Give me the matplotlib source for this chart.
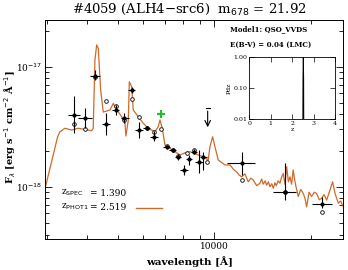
import matplotlib
matplotlib.use("Agg")
import matplotlib.pyplot as plt
from matplotlib.ticker import FixedLocator, NullFormatter, LogLocator
import numpy as np

# ── Model spectrum (wavelength [A], flux [1e-18 erg/s/cm2/A]) ────────────────
spec_wl = [2965, 3236, 3289, 3410, 3580, 3753, 4134, 4180, 4232, 4285, 4335,
           4410, 4493, 4714, 4830, 4887, 5003, 5129, 5253, 5290, 5380, 5420,
           5510, 5576, 5780, 5990, 6210, 6516, 6674, 6756, 6870, 7003, 7260,
           7527, 7800, 8100, 8384, 8900, 9226, 9560, 9680, 9870, 10036, 10280,
           10780, 11180, 11450, 11730, 11950, 12160, 12450, 12750, 13000, 13220,
           13550, 13870, 14050, 14200, 14400, 14550, 14750, 14900, 15100, 15270,
           15450, 15600, 15800, 16020, 16200, 16410, 16600, 16810, 17020,
           17220, 17420, 17620, 17800, 17980, 18280, 18600, 18940, 19180, 19410,
           19750, 20120, 20500, 20850, 21250, 21630, 22000, 22420, 22960, 23390,
           23810, 24380, 24800, 25260]
spec_flux = [1.00, 2.61, 2.87, 3.07, 2.97, 3.07, 2.93, 3.07, 11.4, 15.2, 14.2,
             6.40, 4.19, 4.36, 4.95, 4.64, 4.22, 3.83, 3.38, 2.65, 3.60, 7.50,
             6.81, 4.36, 3.83, 3.38, 3.07, 2.87, 3.16, 3.60, 3.07, 2.23, 2.09,
             1.96, 1.84, 1.92, 1.96, 1.84, 1.78, 1.67, 2.15, 2.61, 2.15, 1.67,
             1.52, 1.52, 1.40, 1.33, 1.25, 1.21, 1.28, 1.10, 1.18, 1.14,
             1.02, 1.07, 1.16, 1.05, 1.12, 1.03, 1.10, 1.00, 1.06, 0.97,
             1.08, 1.02, 1.12, 1.07, 1.20, 1.29, 1.05, 1.47, 1.10,
             1.21, 1.05, 1.38, 1.15, 1.00, 0.83, 0.95, 0.88, 0.80, 0.68,
             0.90, 0.83, 0.90, 0.88, 0.78, 0.80, 0.86, 0.775, 0.94, 1.10,
             0.88, 0.73, 0.76, 0.68]

# ── Observed photometry ──────────────────────────────────────────────────────
phot_wl = [3648, 3938, 4232, 4570, 4910, 5215, 5510, 5820, 6140, 6470, 7096,
           7403, 7705, 8030, 8325, 8630, 8947, 9226, 12160, 16610, 21630]
phot_wl_lo = [3490, 3753, 4083, 4440, 4770, 5100, 5380, 5650, 5990, 6290, 6900,
              7200, 7550, 7800, 8150, 8450, 8690, 9010, 10915, 15270, 20120]
phot_wl_hi = [3800, 4134, 4385, 4714, 5040, 5410, 5650, 5990, 6290, 6660, 7260,
              7580, 7860, 8260, 8500, 8800, 9210, 9475, 13390, 17980, 23250]
phot_flux = [3.96, 3.72, 8.41, 3.31, 4.36, 3.72, 6.40, 2.97, 3.07, 2.61, 2.13,
             2.02, 1.76, 1.38, 1.69, 1.96, 1.62, 1.76, 1.57, 0.899, 0.718]
phot_flux_lo = [2.79, 3.07, 7.74, 2.70, 3.96, 3.39, 6.00, 2.53, 2.95, 2.40, 2.05,
                1.94, 1.66, 1.25, 1.52, 1.88, 1.29, 1.38, 1.25, 0.775, 0.66]
phot_flux_hi = [5.70, 4.50, 9.39, 4.09, 4.79, 4.10, 6.81, 3.48, 3.20, 2.90, 2.22,
                2.10, 1.86, 1.52, 1.84, 2.05, 2.02, 1.96, 1.96, 1.57, 0.826]

# model photometry (open circles)
model_wl = [3648, 3938, 4232, 4570, 4910, 5215, 5510, 5820, 6140, 6470, 6790,
            7096, 7403, 7705, 8180, 8630, 9510, 12160, 16610, 21630]
model_flux = [3.33, 3.02, 8.16, 5.21, 4.70, 3.60, 5.35, 3.83, 3.07, 2.87, 3.01,
              2.20, 2.02, 1.82, 1.90, 2.02, 1.61, 1.14, 0.90, 0.619]

# extra points
green_wl, green_flux = 6790, 4.01
limit_wl, limit_flux, limit_tip = 9523, 4.50, 2.97

# ── Pdz inset ────────────────────────────────────────────────────────────────
pdz_z = [0.0, 2.49, 2.505, 2.52, 2.535, 2.55, 4.0]
pdz_p = [1e-4, 1e-4, 0.2, 1.0, 0.2, 1e-4, 1e-4]

ORANGE = "#cf6a2a"
SCALE = 1e-18
plt.rcParams["font.family"] = "DejaVu Serif"

fig = plt.figure(figsize=(3.48, 2.70), dpi=100)
ax = fig.add_axes([0.1307, 0.1148, 0.8563, 0.8111])

ax.plot(spec_wl, np.array(spec_flux) * SCALE, color=ORANGE, lw=0.9, zorder=2)

pw = np.array(phot_wl, float)
pf = np.array(phot_flux) * SCALE
xerr = [pw - np.array(phot_wl_lo), np.array(phot_wl_hi) - pw]
yerr = [pf - np.array(phot_flux_lo) * SCALE, np.array(phot_flux_hi) * SCALE - pf]
ax.errorbar(pw, pf, xerr=xerr, yerr=yerr, fmt="o", ms=2.0, color="black",
            elinewidth=0.8, capsize=0, zorder=4)
ax.plot(model_wl, np.array(model_flux) * SCALE, "o", ms=2.6, mfc="white",
        mec="black", mew=0.6, zorder=3)
ax.plot(green_wl, green_flux * SCALE, "+", color="#20c020", ms=6, mew=1.5, zorder=5)

# upper limit
ax.plot([limit_wl * 0.985, limit_wl * 1.015], [limit_flux * SCALE] * 2, color="black", lw=0.8)
ax.annotate("", xy=(limit_wl, limit_tip * SCALE), xytext=(limit_wl, limit_flux * SCALE),
            arrowprops=dict(arrowstyle="->", color="black", lw=0.8, mutation_scale=10))

ax.set_xscale("log")
ax.set_yscale("log")
ax.set_xlim(2965, 25300)
ax.set_ylim(3.67e-19, 2.45e-17)

ax.xaxis.set_major_locator(FixedLocator([10000]))
ax.xaxis.set_minor_locator(FixedLocator([3000, 4000, 5000, 6000, 7000, 8000, 9000, 20000]))
ax.xaxis.set_minor_formatter(NullFormatter())
ax.set_xticklabels(["10000"])
ax.yaxis.set_major_locator(FixedLocator([1e-18, 1e-17]))
ax.yaxis.set_minor_locator(LogLocator(base=10, subs=np.arange(2, 10)))
ax.yaxis.set_minor_formatter(NullFormatter())
ax.set_yticklabels([r"10$^{-18}$", r"10$^{-17}$"])
ax.tick_params(which="both", direction="in", top=True, right=True, labelsize=6.5,
               width=0.6, pad=2.5)
ax.tick_params(which="major", length=5)
ax.tick_params(which="minor", length=3)
for s in ax.spines.values():
    s.set_linewidth(0.7)

fig.text(0.545, 0.965, r"#4059 (ALH4$-$src6)  m$_{678}$ = 21.92", ha="center",
         va="center", fontsize=9.5)
fig.text(0.545, 0.03, "wavelength [Å]", ha="center", va="center", fontsize=7.5, fontweight="bold")
fig.text(0.028, 0.53, r"F$_\lambda$ [erg s$^{-1}$ cm$^{-2}$ Å$^{-1}$]", rotation=90,
         ha="center", va="center", fontsize=7, fontweight="bold")

ax.text(0.619, 0.959, "Model1: QSO_VVDS", transform=ax.transAxes, fontsize=5,
        fontweight="bold", va="center")
ax.text(0.619, 0.886, "E(B-V) = 0.04 (LMC)", transform=ax.transAxes, fontsize=5,
        fontweight="bold", va="center")

ax.text(0.052, 0.21, r"z$_{\mathrm{SPEC}}$", transform=ax.transAxes, fontsize=6.5, va="center")
ax.text(0.15, 0.21, "= 1.390", transform=ax.transAxes, fontsize=6.5, va="center")
ax.text(0.052, 0.146, r"z$_{\mathrm{PHOT1}}$", transform=ax.transAxes, fontsize=6.5, va="center")
ax.text(0.15, 0.146, "= 2.519", transform=ax.transAxes, fontsize=6.5, va="center")
ax.plot([0.304, 0.391], [0.1416, 0.1416], transform=ax.transAxes, color=ORANGE, lw=1.0)

# ── inset ────────────────────────────────────────────────────────────────────
ins = fig.add_axes([0.7164, 0.5593, 0.2463, 0.2307])
ins.plot(pdz_z, pdz_p, color="black", lw=0.7)
ins.set_yscale("log")
ins.set_xlim(0, 4)
ins.set_ylim(0.01, 1.0)
ins.set_yticks([0.01, 0.1, 1.0])
ins.set_yticklabels(["0.01", "0.10", "1.00"])
ins.yaxis.set_minor_formatter(NullFormatter())
ins.set_xticks([0, 1, 2, 3, 4])
ins.tick_params(which="both", direction="in", top=True, right=True, labelsize=4.5,
                width=0.5, pad=1.5)
ins.tick_params(which="minor", length=0)
ins.set_xlabel("z", fontsize=4.5, labelpad=1)
ins.set_ylabel("Pdz", fontsize=4.5, labelpad=1)
for s in ins.spines.values():
    s.set_linewidth(0.6)

fig.savefig("out.png", dpi=100)
